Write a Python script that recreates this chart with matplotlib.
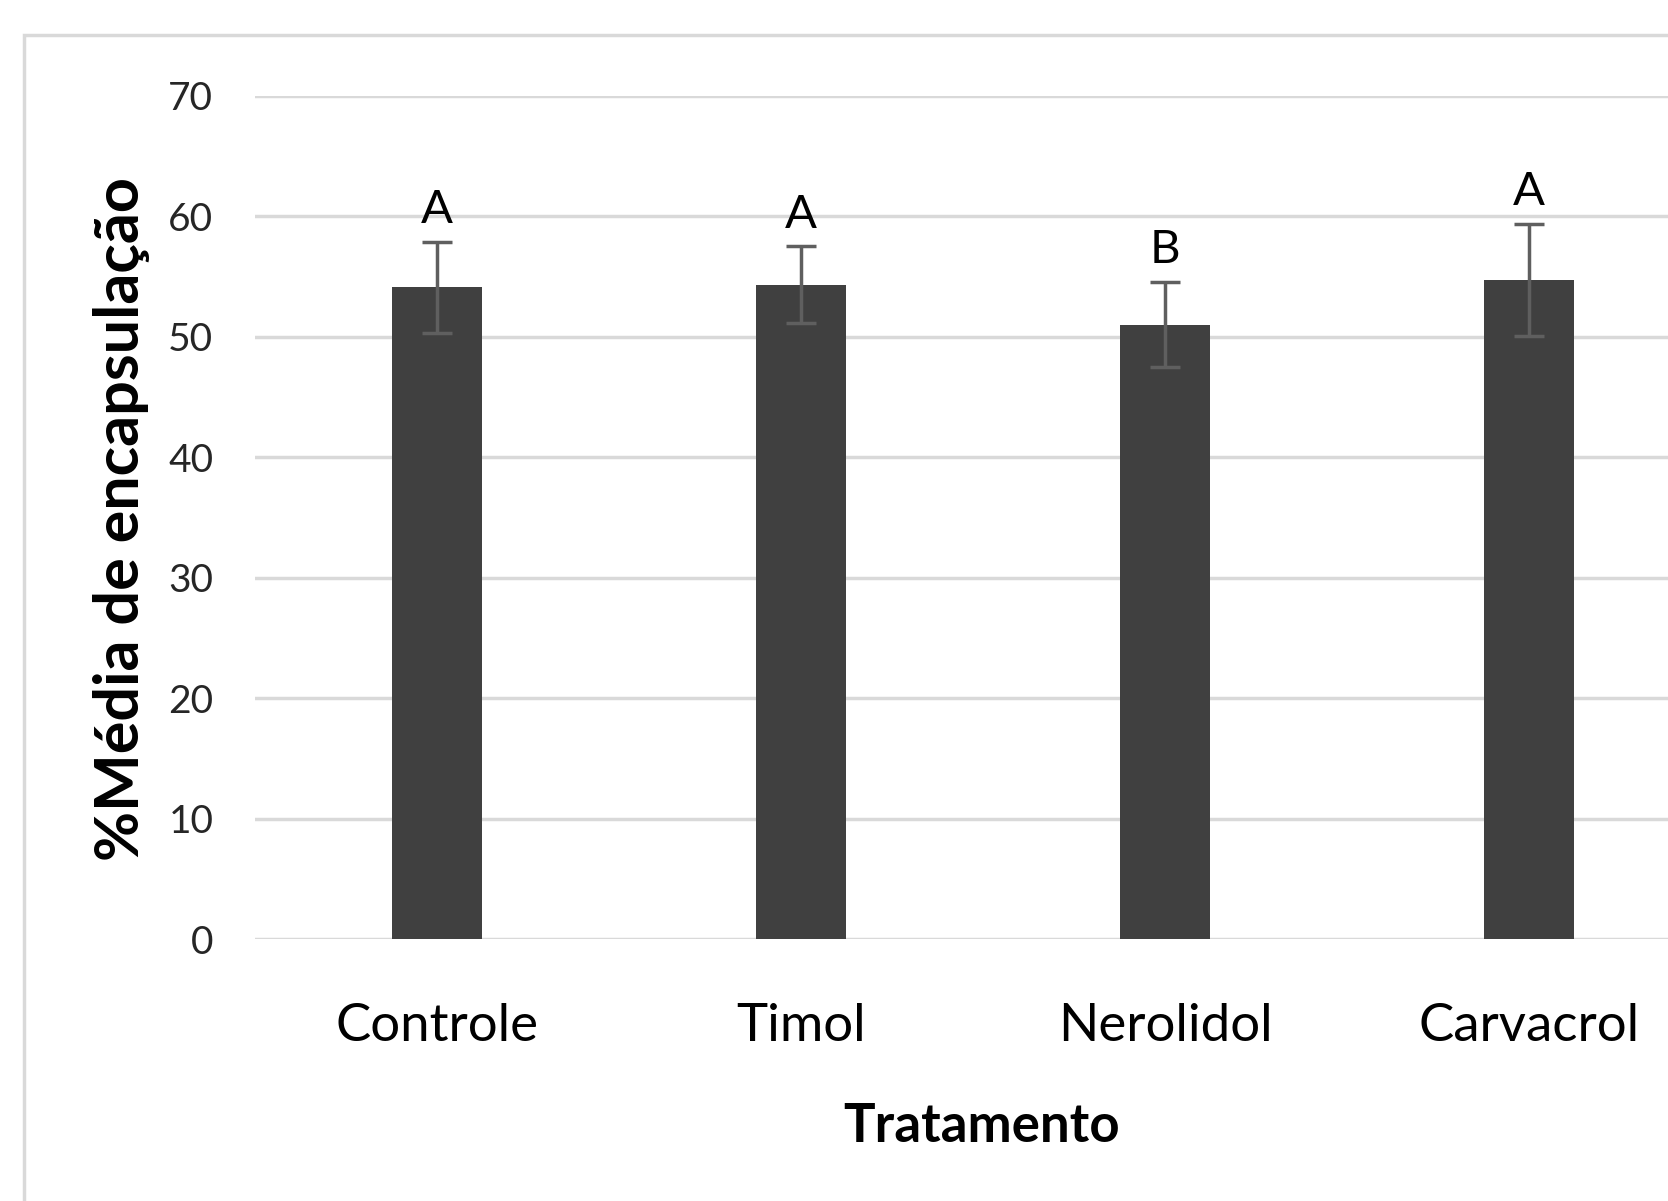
import numpy as np
import matplotlib.pyplot as plt
from matplotlib.patches import Rectangle

plt.rcParams['font.family'] = ['Lato', 'DejaVu Sans']

# Dados
tratamentos = ['Controle', 'Timol', 'Nerolidol', 'Carvacrol']
medias = [54.1, 54.3, 51.0, 54.7]
erros = [3.75, 3.2, 3.55, 4.65]
letras = ['A', 'A', 'B', 'A']
yticks = [0, 10, 20, 30, 40, 50, 60, 70]

fig = plt.figure(figsize=(16.68, 12.01), dpi=100)

# Moldura cinza do gráfico (cortada à direita e embaixo)
fig.patches.append(Rectangle((24 / 1668, -0.05), 1.1, 1 - 35 / 1201 + 0.05,
                             transform=fig.transFigure, fill=False,
                             edgecolor='#d9d9d9', linewidth=2.5))

ax = fig.add_axes([0.1529, 0.2179, 0.8729, 0.7024])
x = np.arange(len(tratamentos))
ax.bar(x, medias, width=0.247, color='#404040', zorder=3)
ax.errorbar(x, medias, yerr=erros, fmt='none', ecolor='#5f5f5f',
            elinewidth=2.5, capsize=11, capthick=2.5, zorder=4)

for xi, m, e, l in zip(x, medias, erros, letras):
    ax.text(xi, m + e + 0.9, l, ha='center', va='bottom', fontsize=34,
            color='black')

ax.set_xlim(-0.5, len(tratamentos) - 0.5)
ax.set_ylim(0, 70)
ax.set_yticks(yticks)
ax.set_xticks(x)
ax.set_xticklabels(tratamentos)
ax.grid(axis='y', color='#d9d9d9', linewidth=2.5, zorder=0)
ax.set_axisbelow(True)
for s in ax.spines.values():
    s.set_visible(False)
ax.tick_params(axis='y', length=0, pad=30, labelsize=28, labelcolor='#262626')
ax.tick_params(axis='x', length=0, pad=46, labelsize=38, labelcolor='black')

fig.text(122 / 1668, 0.568, '%Média de encapsulação', rotation=90,
         ha='center', va='center', fontsize=44, fontweight='bold')
fig.text(982 / 1668, 0.062, 'Tratamento', ha='center', va='center',
         fontsize=38, fontweight='bold')

fig.savefig('out.png', dpi=100)
